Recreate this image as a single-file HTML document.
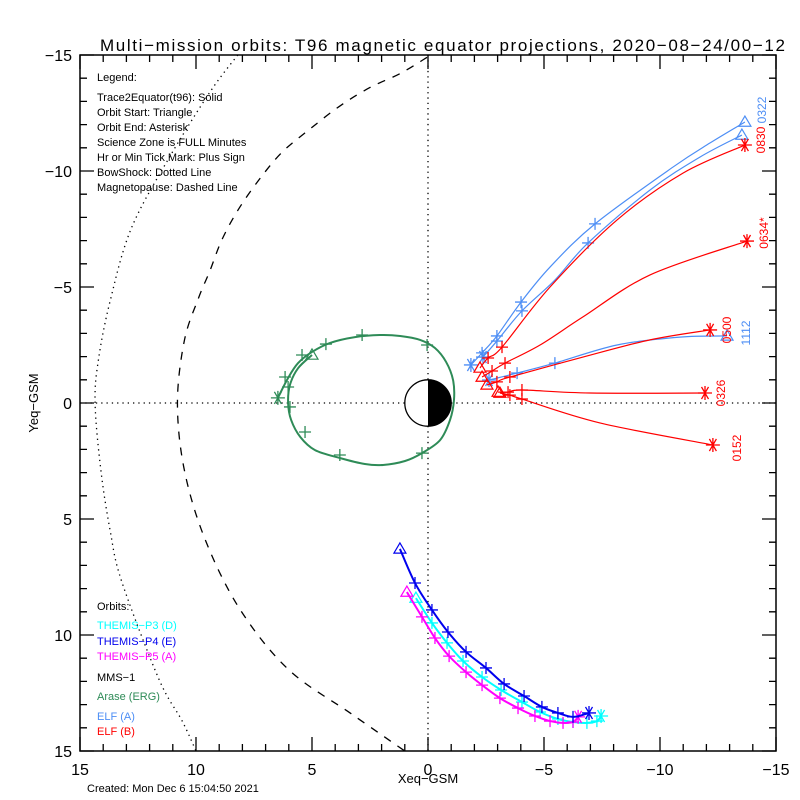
<!DOCTYPE html>
<html><head><meta charset="utf-8"><style>
html,body{margin:0;padding:0;background:#fff;}
svg{display:block;font-family:"Liberation Sans",sans-serif;}
</style></head><body>
<svg id="chart" width="800" height="800" viewBox="0 0 800 800" xmlns="http://www.w3.org/2000/svg">
<rect x="0" y="0" width="800" height="800" fill="#fff"/>
<text x="100" y="51" font-size="17" textLength="685" lengthAdjust="spacing" fill="#000">Multi−mission orbits: T96 magnetic equator projections, 2020−08−24/00−12</text>
<text transform="translate(38,403) rotate(-90)" font-size="13" text-anchor="middle">Yeq−GSM</text>
<text x="428" y="783" font-size="13" text-anchor="middle">Xeq−GSM</text>
<text x="87" y="792" font-size="11">Created: Mon Dec  6 15:04:50 2021</text>
<g id="axes"></g>
<g id="legend" font-size="11">
<text x="97" y="81">Legend:</text>
<text x="97" y="101">Trace2Equator(t96): Solid</text>
<text x="97" y="116">Orbit Start: Triangle</text>
<text x="97" y="131">Orbit End: Asterisk</text>
<text x="97" y="146">Science Zone is FULL Minutes</text>
<text x="97" y="161">Hr or Min Tick Mark: Plus Sign</text>
<text x="97" y="176">BowShock: Dotted Line</text>
<text x="97" y="191">Magnetopause: Dashed Line</text>
<text x="97" y="610">Orbits:</text>
<text x="97" y="629" fill="#00ffff">THEMIS−P3 (D)</text>
<text x="97" y="645" fill="#0000ee">THEMIS−P4 (E)</text>
<text x="97" y="660" fill="#ff00ff">THEMIS−P5 (A)</text>
<text x="97" y="681">MMS−1</text>
<text x="97" y="700" fill="#2e8b57">Arase (ERG)</text>
<text x="97" y="720" fill="#4d8ef5">ELF (A)</text>
<text x="97" y="735" fill="#ff0000">ELF (B)</text>
</g>
<g id="marks"></g>
</svg>
<script>
// data (GSM units, Re)
const xTicks=[15,10,5,0,-5,-10,-15];
const yTicks=[-15,-10,-5,0,5,10,15];
const bowX=[8.2,9.4,11.2,12.8,13.7,14.2,14.35,14.1,13.7,13.2,11.6,10.6,10.0];
const bowY=[-15,-13.4,-10.5,-7.5,-4.4,-1.9,0,2.9,5.5,7.7,11.9,13.7,15];
const mpX=[0.04,1.2,2.5,3.8,5.1,6.3,7.3,8.2,8.9,9.4,9.9,10.5,10.8,10.5,9.6,8.1,6.0,3.3,1.0];
const mpY=[-14.9,-14.2,-13.6,-12.8,-11.8,-10.8,-9.6,-8.3,-7.0,-5.7,-4.5,-2.7,0,2.9,5.9,8.9,11.5,13.4,15];
const araseX=[5.0,5.6,5.95,6.03,5.9,5.5,4.87,3.8,2.72,1.94,0.99,0.26,-0.52,-0.95,-1.12,-1.08,-0.78,-0.3,0.34,1.2,2.07,3.15,4.22,5.0,5.6,6.03,6.47];
const araseY=[-2.07,-1.5,-0.78,0,0.73,1.47,2.03,2.37,2.63,2.67,2.5,2.16,1.6,0.73,-0.13,-0.99,-1.77,-2.37,-2.72,-2.89,-2.93,-2.84,-2.59,-2.2,-1.72,-1.08,-0.22];
const araseTickX=[2.84,4.4,0.04,5.43,6.16,6.03,5.95,5.3,3.8,0.26];
const araseTickY=[-2.93,-2.54,-2.5,-2.07,-1.12,-0.69,0.17,1.25,2.24,2.16];
const p4X=[1.21,0.56,-0.17,-0.86,-1.64,-2.5,-3.28,-4.14,-4.91,-5.6,-6.25,-6.94];
const p4Y=[6.29,7.76,8.92,9.87,10.73,11.42,12.11,12.63,13.1,13.36,13.53,13.36];
const p3X=[0.52,-0.17,-0.82,-1.51,-2.33,-3.15,-4.05,-4.83,-5.6,-6.25,-6.85,-7.28,-7.46];
const p3Y=[8.41,9.48,10.34,11.12,11.81,12.37,12.89,13.32,13.62,13.75,13.79,13.71,13.49];
const p5X=[0.91,0.26,-0.3,-0.91,-1.64,-2.33,-3.1,-3.88,-4.61,-5.26,-5.82,-6.25,-6.47];
const p5Y=[8.15,9.22,10.13,10.91,11.6,12.16,12.72,13.15,13.49,13.71,13.79,13.75,13.53];
const elfA1X=[-13.66,-12.16,-10.56,-7.2,-5.26,-4.01,-2.97,-2.33,-1.85];
const elfA1Y=[-12.11,-11.21,-10.17,-7.72,-5.86,-4.35,-2.89,-2.16,-1.64];
const elfA2X=[-13.53,-11.72,-9.57,-6.9,-5.47,-4.05,-2.97,-2.37];
const elfA2Y=[-11.55,-10.6,-9.18,-6.9,-5.3,-3.97,-2.67,-1.98];
const elfA3X=[-12.89,-10.86,-8.15,-5.47,-3.84,-2.63];
const elfA3Y=[-2.89,-2.84,-2.5,-1.72,-1.29,-0.99];
const elfB1X=[-2.24,-2.59,-3.19,-5.26,-8.15,-10.99,-13.66];
const elfB1Y=[-1.51,-1.94,-2.41,-5.0,-7.89,-9.91,-11.12];
const elfB2X=[-2.33,-2.76,-3.32,-4.83,-6.68,-9.57,-13.75];
const elfB2Y=[-1.12,-1.38,-1.72,-2.5,-3.71,-5.52,-6.98];
const elfB3X=[-2.54,-2.97,-3.53,-6.68,-9.57,-12.16];
const elfB3Y=[-0.78,-0.91,-1.12,-1.98,-2.72,-3.15];
const elfB4X=[-3.02,-3.45,-4.05,-6.98,-11.94];
const elfB4Y=[-0.47,-0.47,-0.56,-0.43,-0.43];
const elfB5X=[-3.1,-3.53,-4.05,-7.41,-12.28];
const elfB5Y=[-0.43,-0.34,-0.17,0.86,1.81];

const X0=80,X1=776,Y0=55,Y1=751;
function sx(v){return X0+(15-v)/30*(X1-X0);}
function sy(v){return Y0+(v+15)/30*(Y1-Y0);}
const NS="http://www.w3.org/2000/svg";
const marks=document.getElementById('marks');
const axes=document.getElementById('axes');
function mk(tag,attrs,parent){const e=document.createElementNS(NS,tag);for(const k in attrs)e.setAttribute(k,attrs[k]);(parent||marks).appendChild(e);return e;}
function smooth(xs,ys){
  const p=xs.map((x,i)=>[sx(x),sy(ys[i])]);
  let d='M'+p[0][0]+','+p[0][1];
  for(let i=0;i<p.length-1;i++){
    const a=p[Math.max(i-1,0)],b=p[i],c=p[i+1],e=p[Math.min(i+2,p.length-1)];
    d+=' C'+(b[0]+(c[0]-a[0])/6)+','+(b[1]+(c[1]-a[1])/6)+' '+(c[0]-(e[0]-b[0])/6)+','+(c[1]-(e[1]-b[1])/6)+' '+c[0]+','+c[1];
  }
  return d;
}
function plusD(x,y,s){return 'M'+(x-s)+','+y+'H'+(x+s)+'M'+x+','+(y-s)+'V'+(y+s);}
function starD(x,y,s){let d='';for(let k=0;k<3;k++){const a=k*Math.PI/3;d+='M'+(x-s*Math.cos(a))+','+(y-s*Math.sin(a))+'L'+(x+s*Math.cos(a))+','+(y+s*Math.sin(a));}return d+'M'+x+','+(y-s)+'V'+(y+s);}
function triD(x,y,s){return 'M'+x+','+(y-s)+'L'+(x+s)+','+(y+s*0.7)+'L'+(x-s)+','+(y+s*0.7)+'Z';}

const box=mk('rect',{x:X0,y:Y0,width:X1-X0,height:Y1-Y0,fill:'none',stroke:'#000','stroke-width':1.5},axes);


let td='';
for(let v=-15;v<=15;v++){
  const L=(v%5===0)?14:7;
  const x=sx(v),y=sy(v);
  td+='M'+x+','+Y1+'v'+(-L)+'M'+x+','+Y0+'v'+L+'M'+X0+','+y+'h'+L+'M'+X1+','+y+'h'+(-L);
}
const tk=mk('path',{d:td,stroke:'#000','stroke-width':1.3,fill:'none'},axes);


xTicks.forEach(v=>{
  const t=mk('text',{x:sx(v),y:Y1+24,'font-size':16,'text-anchor':'middle'},axes);
  t.textContent=String(v).replace('-','−');
  
  
});
yTicks.forEach(v=>{
  const t=mk('text',{x:X0-8,y:sy(v)+6,'font-size':16,'text-anchor':'end'},axes);
  t.textContent=String(v).replace('-','−');
  
  
});
const zx=mk('line',{x1:sx(0),x2:sx(0),y1:Y0,y2:Y1,stroke:'#000','stroke-width':1.3,'stroke-dasharray':'1.3,4'},axes);


const zy=mk('line',{x1:X0,x2:X1,y1:sy(0),y2:sy(0),stroke:'#000','stroke-width':1.3,'stroke-dasharray':'1.3,4'},axes);



const bs=mk('path',{d:smooth(bowX,bowY),fill:'none',stroke:'#000','stroke-width':1.3,'stroke-dasharray':'1.3,4'});


const mp=mk('path',{d:smooth(mpX,mpY),fill:'none',stroke:'#000','stroke-width':1.3,'stroke-dasharray':'8,8'});



const er=23.2;
const ec=mk('circle',{cx:sx(0),cy:sy(0),r:er,fill:'#fff',stroke:'#000','stroke-width':1.3});


const en=mk('path',{d:'M'+sx(0)+','+(sy(0)-er)+' A'+er+','+er+' 0 0 1 '+sx(0)+','+(sy(0)+er)+'Z',fill:'#000'});



function orbit(name,xs,ys,color,w,tickIdx,tx,ty){
  const g=mk('g',{});
  
  
  mk('path',{d:smooth(xs,ys),fill:'none',stroke:color,'stroke-width':w,'stroke-linejoin':'round'},g);
  const n=xs.length;
  let d='';
  const pts=tx?tx.map((v,i)=>[v,ty[i]]):xs.slice(1,n-1).map((v,i)=>[v,ys[i+1]]).filter((p,i)=>tickIdx===null||tickIdx.includes(i+1));
  pts.forEach(p=>{d+=plusD(sx(p[0]),sy(p[1]),6);});
  d+=starD(sx(xs[n-1]),sy(ys[n-1]),7);
  mk('path',{d:d,fill:'none',stroke:color,'stroke-width':1.3},g);
  mk('path',{d:triD(sx(xs[0]),sy(ys[0]),6),fill:'none',stroke:color,'stroke-width':1.2},g);
}
orbit('arase-orbit',araseX,araseY,'#2e8b57',2,null,araseTickX,araseTickY);
orbit('themis-p3-orbit',p3X,p3Y,'#00ffff',2,null);
orbit('themis-p5-orbit',p5X,p5Y,'#ff00ff',2,null);
orbit('themis-p4-orbit',p4X,p4Y,'#0000ee',2,null);
orbit('elf-a-orbit-1',elfA1X,elfA1Y,'#4d8ef5',1.2,[3,5,6,7]);
orbit('elf-a-orbit-2',elfA2X,elfA2Y,'#4d8ef5',1.2,[3,5,6]);
orbit('elf-a-orbit-3',elfA3X,elfA3Y,'#4d8ef5',1.2,[3,4]);
orbit('elf-b-orbit-1',elfB1X,elfB1Y,'#ff0000',1.2,[1,2]);
orbit('elf-b-orbit-2',elfB2X,elfB2Y,'#ff0000',1.2,[1,2]);
orbit('elf-b-orbit-3',elfB3X,elfB3Y,'#ff0000',1.2,[1,2]);
orbit('elf-b-orbit-4',elfB4X,elfB4Y,'#ff0000',1.2,[1,2]);
orbit('elf-b-orbit-5',elfB5X,elfB5Y,'#ff0000',1.2,[1,2]);

const labels=[['0152',737,448,'#ff0000'],['0326',721,393,'#ff0000'],['0500',727,330,'#ff0000'],['1112',746,333,'#4d8ef5'],['0634*',764,233,'#ff0000'],['0322',762,110,'#4d8ef5'],['0830',761,140,'#ff0000']];
labels.forEach(l=>{
  const t=mk('text',{transform:'translate('+l[1]+','+l[2]+') rotate(-90)','font-size':12,'text-anchor':'middle',fill:l[3],dy:'4'});
  t.textContent=l[0];
  
  
});
</script>
</body></html>
